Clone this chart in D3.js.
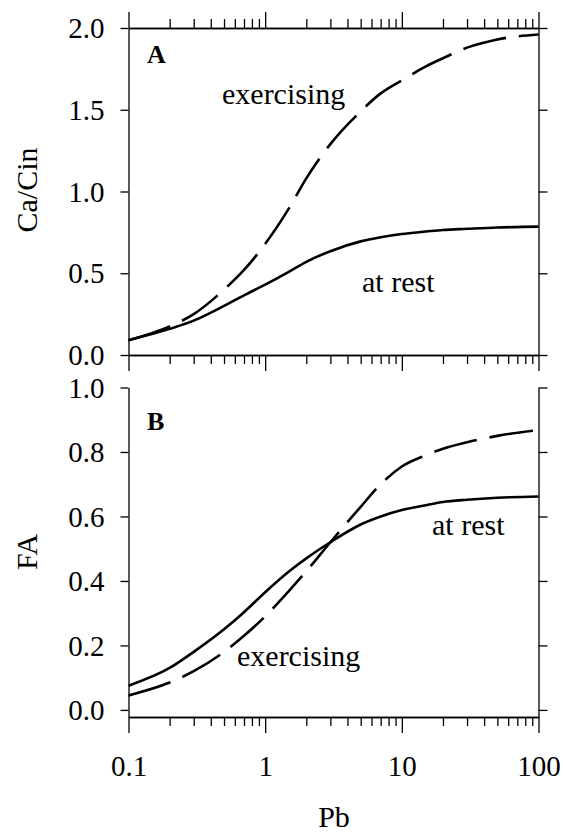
<!DOCTYPE html>
<html><head><meta charset="utf-8">
<script src="https://cdn.jsdelivr.net/npm/d3@7"></script>
<style>
html,body{margin:0;padding:0;background:#fff;}
svg, svg text{font-family:"Liberation Serif","Times New Roman",Times,serif !important;}
svg text{fill:#000;}
</style></head>
<body>
<svg id="c" width="563" height="834" font-family="Liberation Serif, Times New Roman, serif"></svg>
<script>
// Data
const pb = [0.1, 0.2, 0.3, 0.5, 0.7, 1, 1.5, 2, 3, 5, 7, 10, 15, 20, 30, 50, 100];
const caRest = [0.09, 0.16, 0.21, 0.30, 0.365, 0.43, 0.51, 0.57, 0.635, 0.695, 0.72, 0.74, 0.755, 0.765, 0.772, 0.78, 0.785];
const caExer = [0.09, 0.175, 0.25, 0.40, 0.52, 0.68, 0.90, 1.08, 1.29, 1.49, 1.60, 1.68, 1.765, 1.815, 1.88, 1.93, 1.96];
const faRest = [0.075, 0.13, 0.18, 0.25, 0.303, 0.365, 0.43, 0.47, 0.52, 0.575, 0.60, 0.62, 0.635, 0.645, 0.652, 0.658, 0.662];
const faExer = [0.045, 0.085, 0.12, 0.18, 0.23, 0.29, 0.37, 0.43, 0.52, 0.63, 0.70, 0.755, 0.79, 0.81, 0.83, 0.85, 0.868];
const xTickLabels = ["0.1", "1", "10", "100"];
const xMajor = [0.1, 1, 10, 100];
const caTicks = [0, 0.5, 1.0, 1.5, 2.0];
const faTicks = [0, 0.2, 0.4, 0.6, 0.8, 1.0];

const FONT = "Liberation Serif, Times New Roman, serif";
const svg = d3.select("#c");
const L = 128.5, R = 538.5;
const x = d3.scaleLog().domain([0.1, 100]).range([L, R]);
const yA = d3.scaleLinear().domain([0, 2]).range([355, 28]);
const yB = d3.scaleLinear().domain([-0.022, 1.0]).range([717, 387.5]);

const minor = [];
for (let d = 0.1; d < 100; d *= 10) for (let k = 2; k <= 9; k++) minor.push(+(d * k).toPrecision(3));

const FS = 29, FT = 30;
const axisStyle = g => {
  g.attr("font-family", FONT);
  g.selectAll("path.domain").attr("stroke", "#000").attr("stroke-width", 1.3);
  g.selectAll(".tick line").attr("stroke", "#000").attr("stroke-width", 1.3);
};

function xAxes(yPos, dir, withLabels) {
  const mk = dir === "down" ? d3.axisBottom : d3.axisTop;
  svg.append("g").attr("transform", `translate(0,${yPos})`)
    .call(mk(x).tickValues(minor).tickSize(9).tickFormat("").tickSizeOuter(0))
    .call(axisStyle);
  const g = svg.append("g").attr("transform", `translate(0,${yPos})`)
    .call(mk(x).tickValues(xMajor).tickSize(16).tickSizeOuter(0)
      .tickFormat((d, i) => withLabels ? xTickLabels[i] : ""))
    .call(axisStyle);
  g.selectAll("text").attr("font-size", FS).attr("font-family", FONT).attr("dy", "0").attr("y", 59);
  return g;
}

function yAxes(y, ticks, fmt) {
  const gl = svg.append("g").attr("transform", `translate(${L},0)`)
    .call(d3.axisLeft(y).tickValues(ticks).tickSize(8).tickSizeOuter(0).tickPadding(16).tickFormat(fmt))
    .call(axisStyle);
  gl.selectAll("text").attr("font-size", FS).attr("font-family", FONT).attr("dy", "0.33em");
  svg.append("g").attr("transform", `translate(${R},0)`)
    .call(d3.axisRight(y).tickValues(ticks).tickSize(9).tickSizeOuter(0).tickFormat(""))
    .call(axisStyle);
}

// Panel A
xAxes(yA(0), "down", false);
xAxes(yA(2), "up", false);
yAxes(yA, caTicks, d3.format(".1f"));
// Panel B
xAxes(yB.range()[0], "down", true);
yAxes(yB, faTicks, d3.format(".1f"));

// Curves
const line = y => d3.line().x(d => x(d[0])).y(d => y(d[1])).curve(d3.curveMonotoneX);
const series = [
  {y: yA, v: caRest, dash: null},
  {y: yA, v: caExer, dash: "44,13"},
  {y: yB, v: faRest, dash: null},
  {y: yB, v: faExer, dash: "44,13"}
];
series.forEach(s => {
  svg.append("path").datum(pb.map((p, i) => [p, s.v[i]]))
    .attr("d", line(s.y)).attr("fill", "none").attr("stroke", "#000")
    .attr("stroke-width", 2.6).attr("stroke-dasharray", s.dash);
});

// Annotations
const txt = (t, xx, yy, opts = {}) => svg.append("text").attr("x", xx).attr("y", yy)
  .attr("font-family", FONT)
  .attr("font-size", opts.fs || FT).attr("font-weight", opts.bold ? "bold" : null)
  .attr("text-anchor", opts.anchor || "start").text(t);
txt("A", 147, 63, {bold: true, fs: 26});
txt("B", 147, 430, {bold: true, fs: 26});
txt("exercising", 222, 104);
txt("at rest", 362, 292);
txt("at rest", 432, 535);
txt("exercising", 237, 666);

// Axis titles
svg.append("text").attr("transform", "translate(37,190) rotate(-90)").attr("text-anchor", "middle")
  .attr("font-family", FONT).attr("font-size", FT).text("Ca/Cin");
svg.append("text").attr("transform", "translate(37,552) rotate(-90)").attr("text-anchor", "middle")
  .attr("font-family", FONT).attr("font-size", FT).text("FA");
svg.append("text").attr("x", 334).attr("y", 827).attr("text-anchor", "middle")
  .attr("font-family", FONT).attr("font-size", FT).text("Pb");
</script>
</body></html>
